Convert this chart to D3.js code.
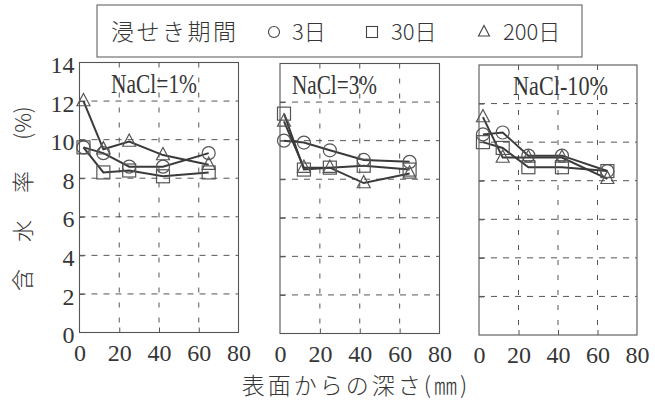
<!DOCTYPE html>
<html>
<head>
<meta charset="utf-8">
<script src="https://cdn.jsdelivr.net/npm/d3@7"></script>
<style>
  html, body { margin: 0; padding: 0; background: #fff; }
  svg { display: block; }
</style>
</head>
<body>
<svg id="chart" width="655" height="403"></svg>
<script>
// Depth from the surface (mm) at which moisture was measured
const depth = [2, 12, 25, 42, 65];
const panelTitles = ["NaCl=1%", "NaCl=3%", "NaCl-10%"];
// Moisture content (%) per immersion period, one row per NaCl concentration
const day3   = [[9.6, 9.3, 8.6, 8.6, 9.3], [10.0, 9.9, 9.5, 9.0, 8.9], [10.4, 10.5, 9.3, 9.3, 8.5]];
const day30  = [[9.6, 8.3, 8.4, 8.1, 8.3], [11.4, 8.5, 8.6, 8.7, 8.5], [10.0, 9.7, 8.7, 8.7, 8.5]];
const day200 = [[12.0, 9.5, 9.9, 9.2, 8.7], [11.0, 8.6, 8.6, 7.8, 8.3], [11.3, 9.2, 9.2, 9.2, 8.1]];
const seriesNames = ["3日", "30日", "200日"];
const xTicks = [0, 20, 40, 60, 80];
const yTicks = [0, 2, 4, 6, 8, 10, 12, 14];

const svg = d3.select("#chart");
const ink = "#363636";
const serif = "'Liberation Serif', 'DejaVu Serif', serif";
const cjk = "'Noto Sans CJK JP', 'Noto Sans CJK SC', sans-serif";

// panel frames (the sheet is very slightly skewed, so each frame sits a little lower)
const frames = [
  { x0: 79.5, x1: 238.5, top: 62.5, bottom: 332.5, titleX: 111, titleW: 86 },
  { x0: 280,  x1: 439.5, top: 63.5, bottom: 333.5, titleX: 292, titleW: 85 },
  { x0: 479,  x1: 637,   top: 65,   bottom: 335,   titleX: 513, titleW: 95 }
];

const series = [day3, day30, day200];
const shapes = ["circle", "square", "triangle"];

function marker(g, shape, cx, cy, s) {
  if (shape === "circle") {
    g.append("circle").attr("cx", cx).attr("cy", cy).attr("r", s / 2);
  } else if (shape === "square") {
    g.append("rect").attr("x", cx - s / 2).attr("y", cy - s / 2).attr("width", s).attr("height", s);
  } else {
    const h = s * 0.95;
    g.append("path").attr("d",
      `M${cx},${cy - h * 0.62} L${cx + s / 2},${cy + h * 0.38} L${cx - s / 2},${cy + h * 0.38} Z`);
  }
}

frames.forEach((f, p) => {
  const x = d3.scaleLinear().domain([0, 80]).range([f.x0, f.x1]);
  const y = d3.scaleLinear().domain([0, 14]).range([f.bottom, f.top]);
  const g = svg.append("g");

  // dashed grid
  g.append("g").selectAll("line").data([2, 4, 6, 8, 10, 12]).join("line")
    .attr("x1", f.x0).attr("x2", f.x1)
    .attr("y1", d => y(d)).attr("y2", d => y(d))
    .attr("stroke", "#555").attr("stroke-width", 1).attr("stroke-dasharray", "6,6");
  g.append("g").selectAll("line").data([20, 40, 60]).join("line")
    .attr("x1", d => x(d)).attr("x2", d => x(d))
    .attr("y1", f.top).attr("y2", f.bottom)
    .attr("stroke", "#555").attr("stroke-width", 1).attr("stroke-dasharray", "5,10");

  // frame
  g.append("rect").attr("x", f.x0).attr("y", f.top)
    .attr("width", f.x1 - f.x0).attr("height", f.bottom - f.top)
    .attr("fill", "none").attr("stroke", "#555").attr("stroke-width", 1.1);

  // x axis with inward ticks
  const xa = g.append("g").attr("transform", `translate(0,${f.bottom})`)
    .call(d3.axisBottom(x).tickValues(xTicks).tickSizeInner(-5).tickSizeOuter(0).tickPadding(11));
  xa.select(".domain").remove();
  xa.selectAll(".tick line").attr("stroke", "#555").filter(d => d === 0 || d === 80).remove();
  xa.selectAll("text").attr("font-family", serif).attr("font-size", 24).attr("fill", ink);

  // y axis (tick labels on the first panel only)
  const ya = g.append("g").attr("transform", `translate(${f.x0},0)`)
    .call(d3.axisLeft(y).tickValues(yTicks).tickSizeInner(-5).tickSizeOuter(0).tickPadding(5));
  ya.select(".domain").remove();
  ya.selectAll(".tick line").attr("stroke", "#555").filter(d => d === 0 || d === 14).remove();
  ya.selectAll("text").attr("font-family", serif).attr("font-size", 24).attr("fill", ink)
    .attr("dy", "0.42em");
  if (p > 0) ya.selectAll("text").remove();

  // panel title
  g.append("text").attr("x", f.titleX).attr("y", f.top + 30)
    .attr("font-family", serif).attr("font-size", 27)
    .attr("textLength", f.titleW).attr("lengthAdjust", "spacingAndGlyphs")
    .attr("fill", ink).text(panelTitles[p]);

  // data lines
  const line = d3.line().x((d, i) => x(depth[i])).y(d => y(d));
  series.forEach((s, k) => {
    g.append("path").datum(s[p]).attr("d", line)
      .attr("fill", "none").attr("stroke", "#3a3a3a").attr("stroke-width", 2);
  });

  // hollow markers
  series.forEach((s, k) => {
    const mg = g.append("g").attr("fill", "none").attr("stroke", "#555").attr("stroke-width", 1.2);
    s[p].forEach((v, i) => marker(mg, shapes[k], x(depth[i]), y(v), 13));
  });
});

// legend
const lg = svg.append("g");
lg.append("rect").attr("x", 97).attr("y", 5).attr("width", 485).attr("height", 52)
  .attr("fill", "none").attr("stroke", "#555").attr("stroke-width", 1);
lg.append("text").attr("x", 111).attr("y", 40)
  .attr("font-family", cjk).attr("font-weight", 300).attr("font-size", 23)
  .attr("letter-spacing", 2.5).attr("fill", ink).text("浸せき期間");
const legendPos = [{ m: 274, t: 292 }, { m: 372, t: 391 }, { m: 484, t: 503 }];
seriesNames.forEach((name, k) => {
  const mg = lg.append("g").attr("fill", "none").attr("stroke", "#444").attr("stroke-width", 1.1);
  marker(mg, shapes[k], legendPos[k].m, 32, 11);
  lg.append("text").attr("x", legendPos[k].t).attr("y", 40)
    .attr("font-family", cjk).attr("font-weight", 300).attr("font-size", 22)
    .attr("fill", ink).text(name);
});

// axis titles
svg.append("text").attr("x", 356).attr("y", 394).attr("text-anchor", "middle")
  .attr("font-family", cjk).attr("font-weight", 300).attr("font-size", 23)
  .attr("letter-spacing", 3).attr("fill", ink).text("表面からの深さ(㎜)");

const yTitle = [{ t: "含", c: 280 }, { t: "水", c: 231 }, { t: "率", c: 182 }, { t: "(%)", c: 123 }];
yTitle.forEach(d => {
  svg.append("text")
    .attr("transform", `translate(23,${d.c}) rotate(-90)`)
    .attr("text-anchor", "middle").attr("dy", "0.35em")
    .attr("font-family", cjk).attr("font-weight", 300).attr("font-size", 22)
    .attr("fill", ink).text(d.t);
});
</script>
</body>
</html>
